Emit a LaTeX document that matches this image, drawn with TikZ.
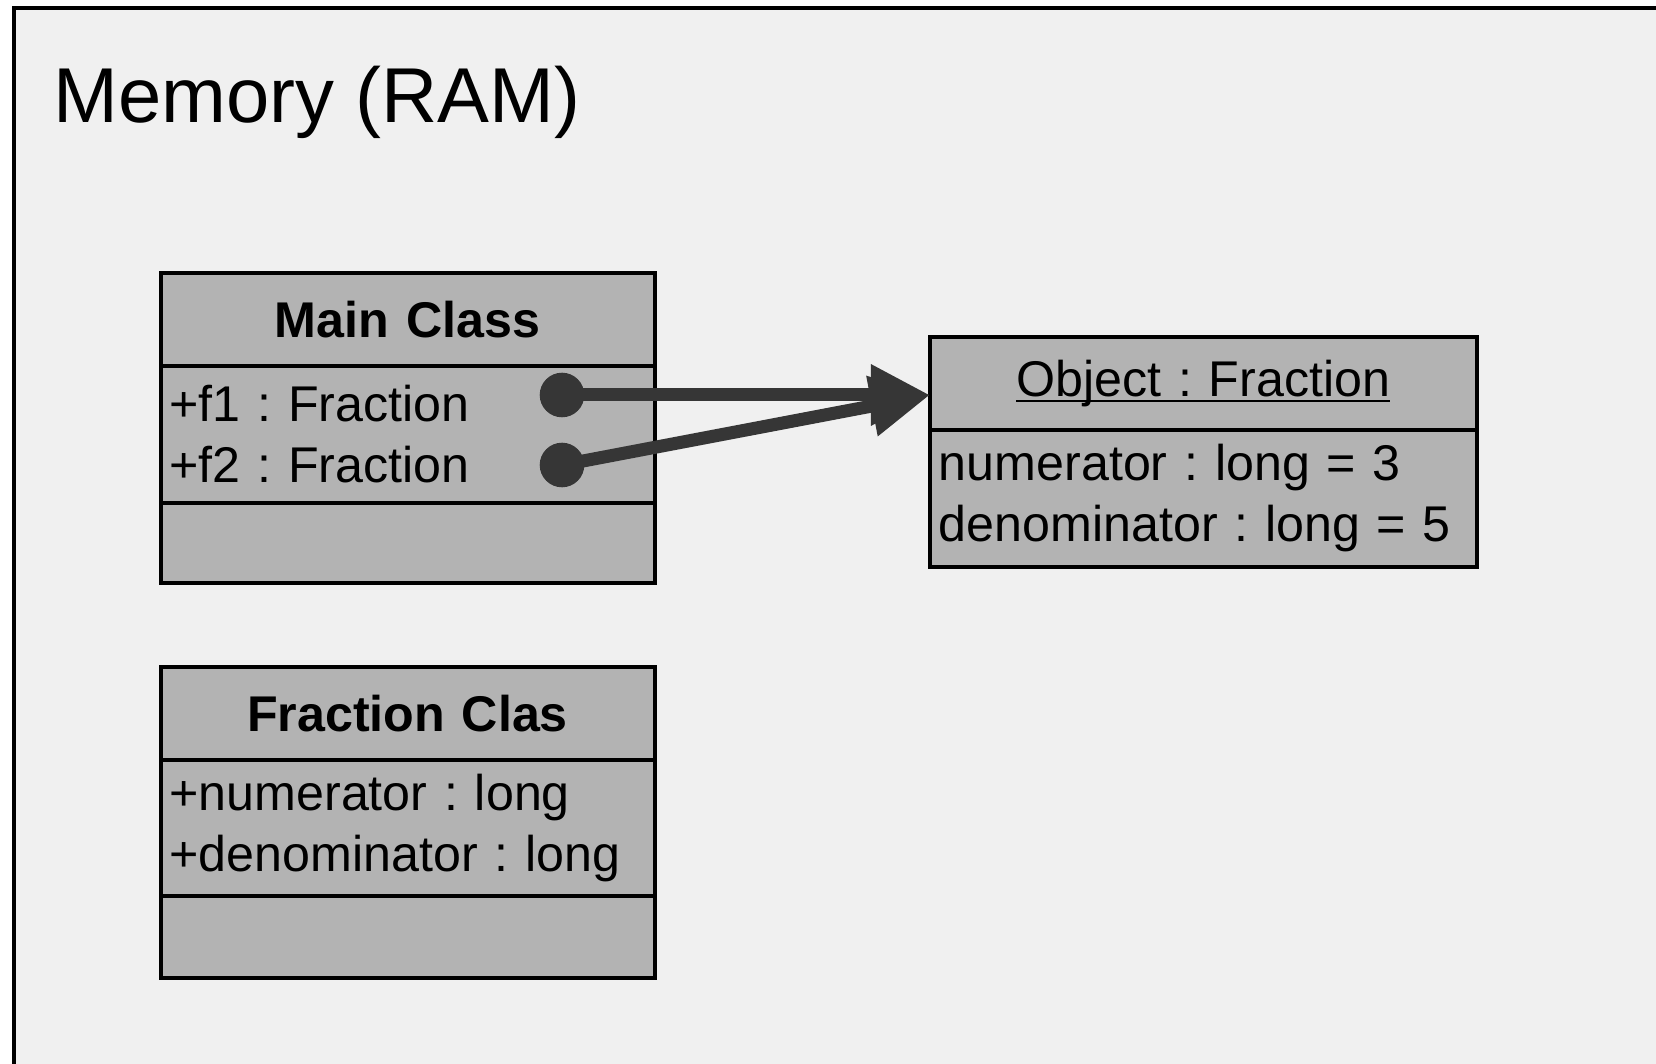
\documentclass[tikz,border=0pt]{standalone}
\usepackage{fontspec}
\setmainfont{Liberation Sans}
\usepackage{xcolor}
\usetikzlibrary{arrows.meta}
\usetikzlibrary{positioning}
\definecolor{ramgray}{HTML}{F0F0F0}
\definecolor{boxgray}{HTML}{B3B3B3}
\definecolor{refgray}{HTML}{363636}
\newcommand{\umlfont}{\fontsize{25.1}{30.5}\selectfont\frenchspacing}
\newcommand{\objname}[1]{\setbox0=\hbox{#1}\rlap{\rule[-2.7pt]{\wd0}{1.1pt}}\box0}

\begin{document}
\begin{tikzpicture}[x=0.5pt,y=-0.5pt,
		compart/.style={draw=black, line width=2pt, fill=boxgray, outer sep=0pt,
			inner xsep=4.5pt, inner ysep=0pt, font=\umlfont},
		mainbox/.style={compart, minimum width=247pt, text width=238pt},
		objbox/.style={compart, minimum width=273.5pt, text width=264.5pt},
		refdot/.style={circle, fill=refgray, minimum size=22.3pt, inner sep=0pt},
		refline/.style={draw=refgray, line width=6.5pt, -{Triangle[length=29.5pt,width=29pt]}}]
			% page and memory frame
			\useasboundingbox (0,0) rectangle (1656,1064);
			\clip (0,0) rectangle (1656,1064);
			\fill[white] (0,0) rectangle (1656,1064);
			\draw[line width=2.3pt, fill=ramgray] (14,8) rectangle (1720,1130);
			\node[anchor=base west, inner sep=0pt, font=\fontsize{38.9}{46}\selectfont] (ramtitle) at (53,123) {Memory (RAM)};
			
			% main class
			\node[mainbox, anchor=north west, minimum height=46.7pt, align=center] (mainhead) at (160.5,272.7) {\bfseries Main Class};
			\node[mainbox, below=0pt of mainhead, minimum height=68.3pt, align=left] (mainattr) {+f1 : Fraction\\+f2 : Fraction};
			\node[mainbox, below=0pt of mainattr, minimum height=40.3pt] (mainmeth) {};
			
			% fraction class
			\node[mainbox, below=41.7pt of mainmeth, minimum height=46.7pt, align=center] (frachead) {\bfseries Fraction Clas};
			\node[mainbox, below=0pt of frachead, minimum height=67.8pt, align=left] (fracattr) {+numerator : long\\+denominator : long};
			\node[mainbox, below=0pt of fracattr, minimum height=41.3pt] (fracmeth) {};
			
			% object
			\node[objbox, anchor=north west, minimum height=46.4pt, align=center] (objhead) at (929.9,337.3) {\objname{Object : Fraction}};
			\node[objbox, below=0pt of objhead, minimum height=68.3pt, align=left] (objattr) {numerator : long = 3\\denominator : long = 5};
			
			% references
			\node[refdot] (f1ref) at (562,395) {};
			\node[refdot] (f2ref) at (562,465) {};
			\coordinate (objin) at (f1ref.center -| objhead.west);
			\draw[refline] (f1ref.center) -- (objin);
			\draw[refline] (f2ref.center) -- (objin);
		\end{tikzpicture}
\end{document}
